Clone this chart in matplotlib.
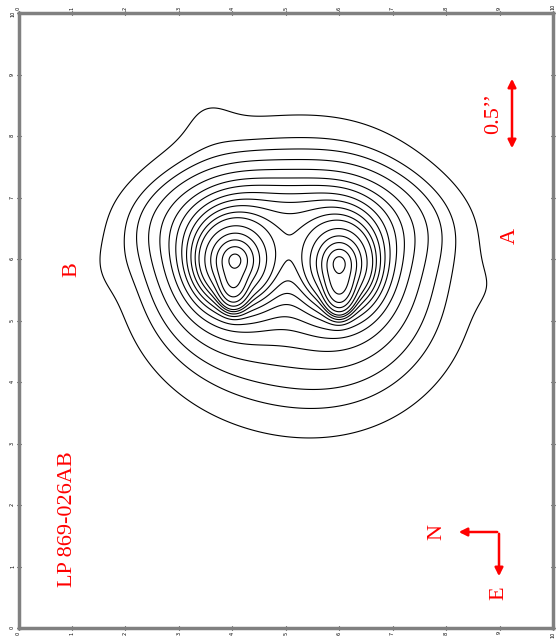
import numpy as np
import matplotlib
matplotlib.use('Agg')
import matplotlib.pyplot as plt
from matplotlib.patches import FancyArrowPatch

# ---------------- data ----------------
tick_values = list(range(0, 11))
tick_labels = [str(v) for v in tick_values]

star_names = ['B', 'A']
# light components: two stars (Moffat), their southern tails, an upper bridge and a lower halo
comp_kind = ['moffat', 'moffat', 'gauss', 'gauss', 'gauss', 'gauss']
comp_x = [4.05, 6.00, 4.02, 6.00, 5.02, 5.55]
comp_y = [5.98, 5.93, 5.69, 5.66, 6.55, 5.45]
comp_amp = [1.0, 1.0, 0.25, 0.35, 0.0055, 0.0016]
comp_wx = [0.172, 0.158, 0.13, 0.13, 1.31, 1.80]
comp_wy = [0.163, 0.163, 0.195, 0.21, 0.49, 1.40]
moffat_beta = 1.5

# faint irregular features of the outer isophote (axis units, amplitude relative to lowest level)
blob_x = [3.50, 1.62, 8.90]
blob_y = [8.42, 5.85, 5.55]
blob_amp = [0.35, 0.22, 0.20]
blob_w = [0.45, 0.35, 0.35]

# contour crossings read above star B (x = 4.05), axis units
contour_cross_x = 4.05
contour_cross_y = [6.08, 6.20, 6.31, 6.42, 6.54, 6.67, 6.76, 6.86, 6.96,
                   7.06, 7.17, 7.28, 7.41, 7.56, 7.72, 7.89, 8.23]

title_text = 'LP 869-026AB'
scale_text = '0.5\u2019\u2019'

# ---------------- model field ----------------
def field(x, y):
    f = np.zeros(np.broadcast(x, y).shape)
    for kind, cx, cy, a, wx, wy in zip(comp_kind, comp_x, comp_y, comp_amp, comp_wx, comp_wy):
        r2 = ((x - cx) / wx) ** 2 + ((y - cy) / wy) ** 2
        if kind == 'moffat':
            f = f + a * (1 + r2) ** (-moffat_beta)
        else:
            f = f + a * np.exp(-0.5 * r2)
    return f

xg = np.linspace(0, 10, 700)
yg = np.linspace(0, 10, 800)
X, Y = np.meshgrid(xg, yg)
Z = field(X, Y)
levels = sorted(field(np.full(len(contour_cross_y), contour_cross_x), np.array(contour_cross_y)))
for bx, by, ba, bw in zip(blob_x, blob_y, blob_amp, blob_w):
    Z = Z + ba * levels[0] * np.exp(-0.5 * (((X - bx) / bw) ** 2 + ((Y - by) / bw) ** 2))

# ---------------- figure ----------------
fig = plt.figure(figsize=(5.56, 6.43), dpi=100)
ax = fig.add_axes([18.5 / 556, 1 - 628 / 643, (553 - 18.5) / 556, (628 - 13) / 643])
ax.contour(X, Y, Z, levels=levels, colors='black', linewidths=0.8)
ax.set_xlim(0, 10)
ax.set_ylim(0, 10)
ax.set_xticks(tick_values)
ax.set_xticklabels(tick_labels)
ax.set_yticks(tick_values)
ax.set_yticklabels(tick_labels)
ax.tick_params(axis='both', which='both', direction='inout', length=3, width=0.8,
               labelsize=3.5, top=True, bottom=True, left=True, right=True,
               labeltop=True, labelbottom=True, labelleft=True, labelright=False,
               pad=1)
for lab in ax.get_xticklabels() + ax.get_yticklabels():
    lab.set_rotation(90)
for s in ax.spines.values():
    s.set_color('#808080')
    s.set_linewidth(2.5)

red = '#ff0000'
serif = ['Liberation Serif', 'DejaVu Serif']

def px(xp, yp):
    return ((xp - 18.5) / 53.45, (628 - yp) / 61.5)

ax.text(*px(72, 270), star_names[0], color=red, fontsize=16, family=serif,
        rotation=90, ha='center', va='center')
ax.text(*px(510, 236), star_names[1], color=red, fontsize=16, family=serif,
        rotation=90, ha='center', va='center')
ax.text(*px(68, 519), title_text, color=red, fontsize=16, family=serif,
        rotation=90, ha='center', va='center')
ax.text(*px(494, 113), scale_text, color=red, fontsize=16, family=serif,
        rotation=90, ha='center', va='center')
ax.text(*px(437, 532), 'N', color=red, fontsize=16, family=serif,
        rotation=90, ha='center', va='center')
ax.text(*px(499, 593), 'E', color=red, fontsize=16, family=serif,
        rotation=90, ha='center', va='center')

arrow_kw = dict(color=red, lw=1.8, mutation_scale=12)
ax.add_patch(FancyArrowPatch(px(512, 76), px(512, 151), arrowstyle='<|-|>', **arrow_kw))
ax.add_patch(FancyArrowPatch(px(500, 532), px(456, 532), arrowstyle='-|>', **arrow_kw))
ax.add_patch(FancyArrowPatch(px(499, 531), px(499, 579), arrowstyle='-|>', **arrow_kw))

fig.savefig('out.png', dpi=100)
